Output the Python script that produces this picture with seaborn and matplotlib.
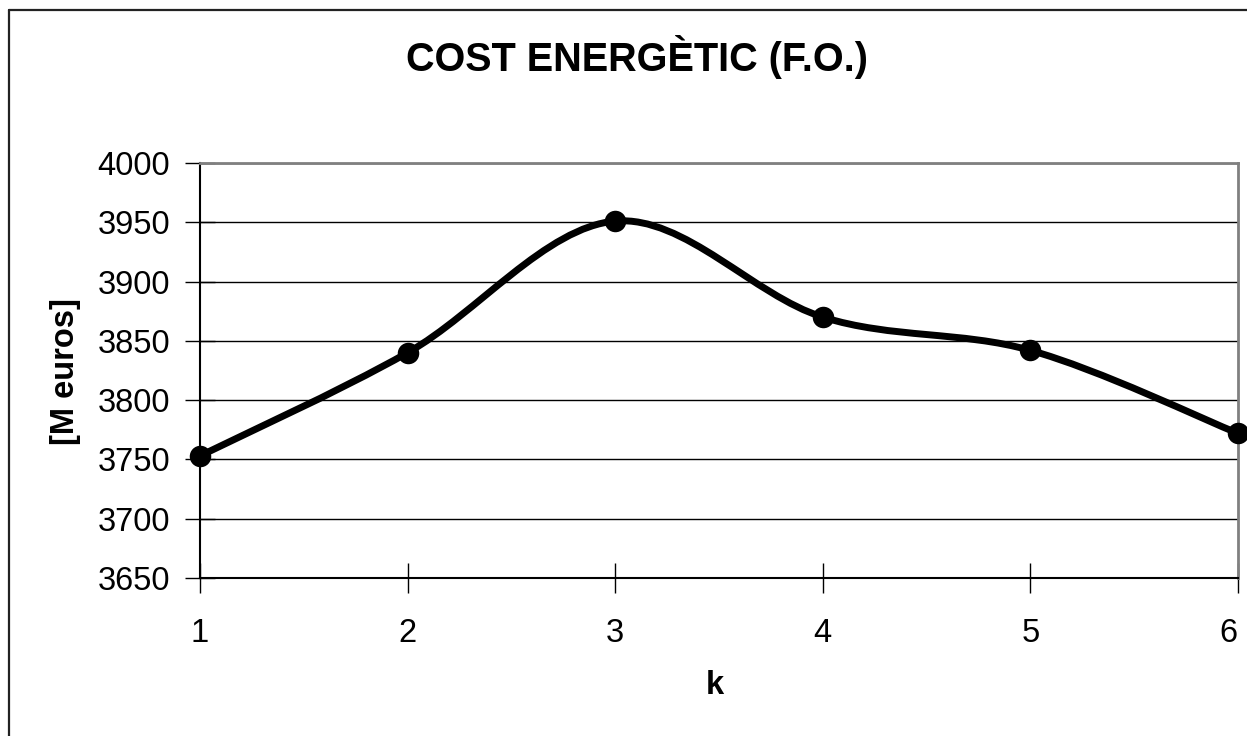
import numpy as np
import matplotlib
matplotlib.use("Agg")
import matplotlib.pyplot as plt
import matplotlib.transforms as mtransforms
from matplotlib.path import Path
from matplotlib.patches import PathPatch
from matplotlib.lines import Line2D
import seaborn as sns
import pandas as pd

k_values = [1, 2, 3, 4, 5, 6]
cost_values = [3753, 3840, 3951, 3870, 3842, 3772]
y_ticks = [3650, 3700, 3750, 3800, 3850, 3900, 3950, 4000]
title = "COST ENERGÈTIC (F.O.)"
x_label = "k"
y_label = "[M euros]"

df = pd.DataFrame({"k": k_values, "cost": cost_values})

sns.set_theme(style="white")
plt.rcParams["font.family"] = ["Liberation Sans", "DejaVu Sans"]

fig = plt.figure(figsize=(12.47, 7.36), dpi=100)
ax = fig.add_axes([200 / 1247, 1 - 578 / 736, 1038 / 1247, 415 / 736])

# smoothed line (Excel-like Catmull-Rom Bezier through the data points)
P = np.column_stack([df["k"].to_numpy(float), df["cost"].to_numpy(float)])
n = len(P)
verts = [tuple(P[0])]
codes = [Path.MOVETO]
for i in range(n - 1):
    p_prev = P[i - 1] if i > 0 else P[i]
    p_next2 = P[i + 2] if i + 2 < n else P[i + 1]
    c1 = P[i] + (P[i + 1] - p_prev) / 6.0
    c2 = P[i + 1] - (p_next2 - P[i]) / 6.0
    verts += [tuple(c1), tuple(c2), tuple(P[i + 1])]
    codes += [Path.CURVE4] * 3
ax.add_patch(PathPatch(Path(verts, codes), facecolor="none", edgecolor="black",
                       lw=5.0, zorder=3, capstyle="round", joinstyle="round"))

sns.scatterplot(data=df, x="k", y="cost", ax=ax, color="black", s=240,
                edgecolor="black", linewidth=0, zorder=4, clip_on=False)

ax.set_xlim(1, 6)
ax.set_ylim(3650, 4000)
ax.set_xticks(k_values)
ax.set_yticks(y_ticks)
ax.yaxis.grid(True, color="black", lw=1.0)
ax.set_axisbelow(True)

for s in ["left", "bottom"]:
    ax.spines[s].set_color("black")
    ax.spines[s].set_linewidth(1.5)
for s in ["top", "right"]:
    ax.spines[s].set_color("#808080")
    ax.spines[s].set_linewidth(2.0)
    ax.spines[s].set_visible(True)

ax.tick_params(axis="y", direction="inout", length=21, width=1.0, color="black",
               labelsize=23.5, pad=11, left=True)
ax.tick_params(axis="x", direction="inout", length=21, width=1.0, color="black",
               labelsize=23.5, pad=18, bottom=True)
for lab in ax.get_xticklabels() + ax.get_yticklabels():
    lab.set_color("black")

# keep the last x tick label inside the figure, as in the reference
last = ax.get_xticklabels()[-1]
last.set_transform(last.get_transform() +
                   mtransforms.ScaledTranslation(-10 / 100, 0, fig.dpi_scale_trans))

ax.set_xlabel(x_label, fontsize=23.5, fontweight="bold", color="black", va="center")
ax.set_ylabel(y_label, fontsize=23.5, fontweight="bold", color="black", va="center")
ax.xaxis.set_label_coords(0.496, -0.258)
ax.yaxis.set_label_coords(-0.13, 0.4976)

fig.text(637 / 1247, 1 - 57 / 736, title, ha="center", va="center",
         fontsize=28.5, fontweight="bold", color="black")

# outer chart frame (left and top edges visible)
fig.add_artist(Line2D([8.5 / 1247, 8.5 / 1247], [0, 1 - 9.5 / 736],
                      transform=fig.transFigure, color="#222222", lw=1.6))
fig.add_artist(Line2D([8.5 / 1247, 1], [1 - 9.5 / 736, 1 - 9.5 / 736],
                      transform=fig.transFigure, color="#222222", lw=1.6))

fig.savefig("out.png", dpi=100, facecolor="white")
